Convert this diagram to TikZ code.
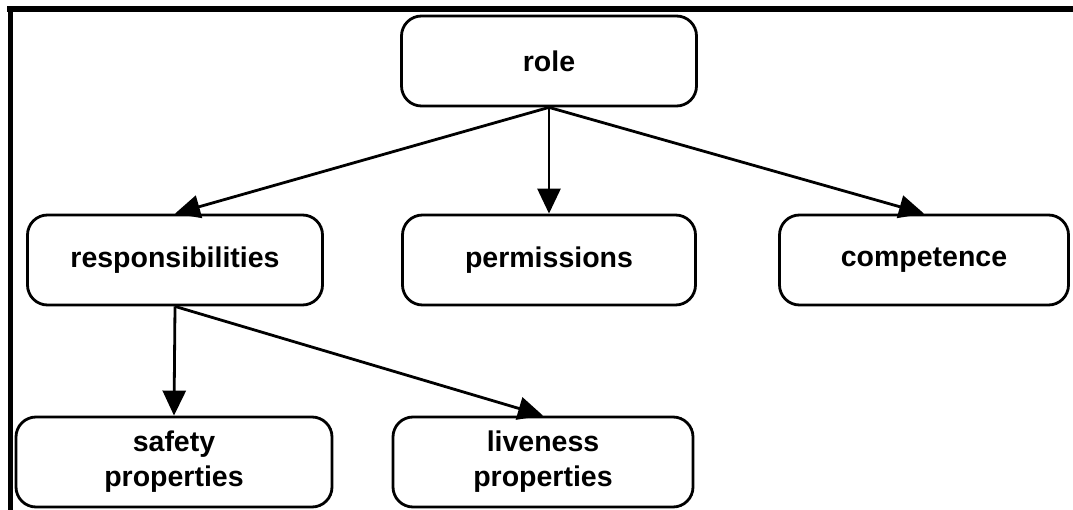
\documentclass[tikz,border=0pt]{standalone}
\usepackage{fontspec}
\setmainfont{Liberation Sans}
\usetikzlibrary{arrows.meta}

\begin{document}
\begin{tikzpicture}[x=1pt,y=-1pt,
    box/.style={draw,line width=2.8pt,rounded corners=20pt,minimum height=90pt,
      align=center,font=\fontsize{28.5}{35}\selectfont\bfseries,inner sep=0pt},
    link/.style={line width=2.8pt,-{Triangle[length=25pt,width=23pt]}}]
    \useasboundingbox (0,0) rectangle (1073,510);
    % frame
    \draw[line width=6pt] (7,9.5) -- (1073,9.5);
    \draw[line width=5pt] (10,7) -- (10,510);
    \node[box,minimum width=295pt] (role) at (549,61) {role};
    \node[box,minimum width=295pt] (resp) at (175,260) {responsibilities};
    \node[box,minimum width=293pt] (perm) at (549,260) {permissions};
    \node[box,minimum width=289pt] (comp) at (924,260) {competence};
    \node[box,minimum width=316pt] (safe) at (174,462) {safety\\properties};
    \node[box,minimum width=300pt] (live) at (543,462) {liveness\\properties};
    \draw[link] (role.south) -- (resp.north);
    \draw[link] (role.south) -- (perm.north);
    \draw[link] (role.south) -- (comp.north);
    \draw[link] (resp.south) -- (safe.north);
    \draw[link] (resp.south) -- (live.north);
\end{tikzpicture}
\end{document}
